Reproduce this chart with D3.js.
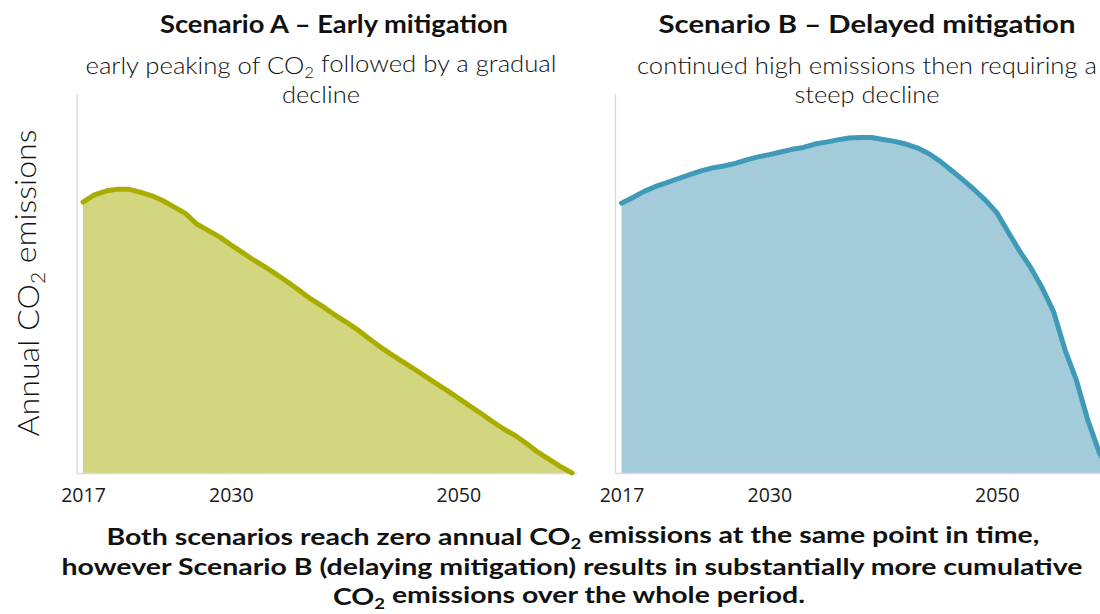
<!DOCTYPE html>
<html>
<head>
<meta charset="utf-8">
<script src="https://cdn.jsdelivr.net/npm/d3@7/dist/d3.min.js"></script>
<style>
  html, body { margin: 0; padding: 0; background: #fff; overflow: hidden; }
  svg { display: block; }
</style>
</head>
<body>
<svg id="chart" width="1100" height="614"></svg>
<script>
// ---------------- data ----------------
const years = [2017,2018,2019,2020,2021,2022,2023,2024,2025,2026,2027,2028,2029,2030,
  2031,2032,2033,2034,2035,2036,2037,2038,2039,2040,2041,2042,2043,2044,2045,2046,
  2047,2048,2049,2050,2051,2052,2053,2054,2055,2056,2057,2058,2059,2060];
// relative annual CO2 emissions (arbitrary units)
const scenarioA = [71.5,73.4,74.4,74.9,74.9,74.1,73.2,71.9,70.2,68.5,65.7,64.0,62.3,60.2,
  58.2,56.2,54.4,52.4,50.4,48.2,46.0,44.1,42.0,40.1,38.1,35.8,33.6,31.5,29.6,27.7,
  25.7,23.7,21.8,19.8,17.7,15.7,13.6,11.6,9.9,7.8,5.5,3.6,1.7,0];
const scenarioB = [71.2,72.7,74.3,75.6,76.6,77.7,78.7,79.7,80.5,81.0,81.7,82.6,83.4,84.0,
  84.7,85.4,85.9,86.8,87.3,87.9,88.4,88.5,88.5,88.0,87.5,86.8,85.8,84.3,82.3,79.9,
  77.4,74.8,72.0,68.7,63.6,58.6,54.1,48.8,42.5,32.5,24.5,14.0,5.5,0];
const tickYears = [2017, 2030, 2050];
const panelTitles = ["Scenario A – Early mitigation", "Scenario B – Delayed mitigation"];
const panelSubtitles = [
  [["early peaking of CO", "2", " followed by a gradual"], ["decline"]],
  [["continued high emissions then requiring a"], ["steep decline"]]
];
const yTitle = ["Annual CO", "2", " emissions"];
const caption = [
  ["Both scenarios reach zero annual CO", "2", " emissions at the same point in time,"],
  ["however Scenario B (delaying mitigation) results in substantially more cumulative"],
  ["CO", "2", " emissions over the whole period."]
];

// ---------------- layout ----------------
const svg = d3.select("#chart");
const yTop = 94, yBottom = 473;
const y = d3.scaleLinear().domain([0, 100]).range([yBottom, yTop]);

const panels = [
  { values: scenarioA, x0: 83, x1: 572, line: "#a9ad00", fill: "#d2d67f",
    titleX: 334, subX: 321, titleW: 348, subW: [471, 78] },
  { values: scenarioB, x0: 621.5, x1: 1110.5, line: "#3f9ab8", fill: "#a3cbda",
    titleX: 867, subX: 867, titleW: 417, subW: [460, 145] }
];

// helper: text with subscript pieces, optionally forced width
function richText(g, parts, attrs, width) {
  const t = g.append("text");
  Object.entries(attrs).forEach(([k, v]) => t.attr(k, v));
  parts.forEach((p, i) => {
    const isSub = parts.length > 1 && i === 1 && p === "2";
    const ts = t.append("tspan").text(p);
    if (isSub) ts.attr("font-size", "65%").attr("dy", "0.3em");
    else if (i > 0 && parts[i - 1] === "2") ts.attr("dy", "-0.3em");
  });
  if (width) t.attr("textLength", width).attr("lengthAdjust", "spacingAndGlyphs");
  return t;
}

panels.forEach((p, pi) => {
  const x = d3.scaleLinear().domain([years[0], years[years.length - 1]]).range([p.x0, p.x1]);
  const data = years.map((yr, i) => ({ yr, v: p.values[i] }));
  const g = svg.append("g");

  // axis lines (light grey)
  g.append("line").attr("x1", p.x0 - 6).attr("x2", p.x0 - 6)
    .attr("y1", yTop).attr("y2", yBottom)
    .attr("stroke", "#d9d9d9").attr("stroke-width", 1.3);

  // area
  g.append("path").datum(data)
    .attr("fill", p.fill)
    .attr("d", d3.area().x(d => x(d.yr)).y0(y(0)).y1(d => y(d.v)));

  // x axis
  const xAxis = d3.axisBottom(x).tickValues(tickYears).tickSize(0).tickPadding(15)
    .tickFormat(d3.format("d"));
  const ax = g.append("g").attr("transform", `translate(0,${yBottom})`).call(xAxis);
  ax.select(".domain").remove();
  ax.selectAll("text").attr("font-family", "'Open Sans', 'Noto Sans', sans-serif")
    .attr("font-size", 19.5).attr("fill", "#1a1a1a");
  g.append("line").attr("x1", p.x0 - 6).attr("x2", p.x1 + 5)
    .attr("y1", yBottom + 0.5).attr("y2", yBottom + 0.5)
    .attr("stroke", "#d9d9d9").attr("stroke-width", 1.3);

  // line
  g.append("path").datum(data)
    .attr("fill", "none").attr("stroke", p.line).attr("stroke-width", 5)
    .attr("stroke-linejoin", "round").attr("stroke-linecap", "round")
    .attr("d", d3.line().x(d => x(d.yr)).y(d => y(d.v)));

  // title
  richText(g, [panelTitles[pi]], {
    x: p.titleX, y: 33, "text-anchor": "middle",
    "font-family": "Lato, 'Noto Sans', sans-serif", "font-weight": 700,
    "font-size": 25, fill: "#111"
  }, p.titleW);

  // subtitle lines
  panelSubtitles[pi].forEach((line, li) => {
    richText(g, line, {
      x: p.subX, y: 74 + li * 29, "text-anchor": "middle",
      "font-family": "Lato, 'Noto Sans', sans-serif", "font-weight": 300,
      "font-size": 22.5, fill: "#111"
    }, p.subW[li]);
  });
});

// y-axis title
const yt = svg.append("g").attr("transform", "translate(39,283) rotate(-90)");
richText(yt, yTitle, {
  x: 0, y: 0, "text-anchor": "middle",
  "font-family": "Lato, 'Noto Sans', sans-serif", "font-weight": 300,
  "font-size": 29, fill: "#111"
}, 307);

// caption
const capW = [933, 1021, 472];
const capX = [573, 572, 569];
const capY = [545, 575, 605];
caption.forEach((line, li) => {
  richText(svg, line, {
    x: capX[li], y: capY[li], "text-anchor": "middle",
    "font-family": "Lato, 'Noto Sans', sans-serif", "font-weight": 700,
    "font-size": 23, fill: "#111"
  }, capW[li]);
});
</script>
</body>
</html>
